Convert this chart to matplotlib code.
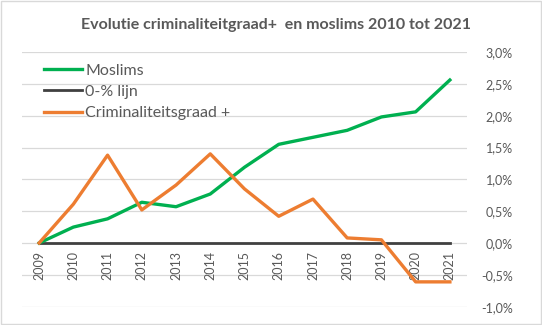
import matplotlib
matplotlib.use('Agg')
import matplotlib.pyplot as plt
from matplotlib.ticker import FuncFormatter
from matplotlib.patches import Rectangle

# data (percent)
years = [2009, 2010, 2011, 2012, 2013, 2014, 2015, 2016, 2017, 2018, 2019, 2020, 2021]
moslims = [0.0, 0.25, 0.38, 0.64, 0.57, 0.77, 1.19, 1.55, 1.66, 1.77, 1.98, 2.06, 2.56]
criminaliteit = [0.0, 0.61, 1.38, 0.52, 0.91, 1.40, 0.85, 0.42, 0.69, 0.08, 0.05, -0.61, -0.61]
nul_lijn = [0.0] * len(years)
y_ticks = [-1.0, -0.5, 0.0, 0.5, 1.0, 1.5, 2.0, 2.5, 3.0]

plt.rcParams['font.family'] = ['Lato', 'DejaVu Sans']
txt = '#595959'

fig = plt.figure(figsize=(5.42, 3.25), dpi=100)
ax = fig.add_axes([22 / 542, 1 - 306.7 / 325, (467 - 22) / 542, (306.7 - 52) / 325])

x = list(range(len(years)))
ax.plot(x, moslims, color='#00B050', lw=2.4, label='Moslims', zorder=3)
ax.plot(x, nul_lijn, color='#404040', lw=2.0, label='0-% lijn', zorder=2)
ax.plot(x, criminaliteit, color='#ED7D31', lw=2.4, label='Criminaliteitsgraad +', zorder=4)

ax.set_xlim(-0.5, len(years) - 0.5)
ax.set_ylim(-1.0, 3.0)
ax.set_yticks(y_ticks)
ax.yaxis.tick_right()
ax.yaxis.set_major_formatter(FuncFormatter(lambda v, p: ('%.1f%%' % v).replace('.', ',')))
ax.tick_params(axis='y', length=0, pad=33, labelsize=9, labelcolor=txt)
for lab in ax.get_yticklabels():
    lab.set_horizontalalignment('right')
ax.set_xticks([])
ax.grid(axis='y', color='#D9D9D9', lw=0.9)
ax.set_axisbelow(True)
for s in ax.spines.values():
    s.set_visible(False)

# category labels sit just below the zero line
for i, yr in enumerate(years):
    ax.text(i, -0.13, str(yr), rotation=90, ha='center', va='top', fontsize=9, color=txt)

leg = ax.legend(loc='upper left', bbox_to_anchor=(0.035, 0.98), frameon=False,
                fontsize=11.5, handlelength=2.4, handletextpad=0.2, labelspacing=0.45,
                borderaxespad=0)
for t in leg.get_texts():
    t.set_color(txt)

fig.text(276 / 542, 1 - 25 / 325, 'Evolutie criminaliteitgraad+  en moslims 2010 tot 2021',
         ha='center', va='center', fontsize=11.5, fontweight='bold', color=txt)

fig.patches.append(Rectangle((0.001, 0.002), 0.997, 0.996, transform=fig.transFigure,
                             fill=False, edgecolor='#D9D9D9', lw=1))

fig.savefig('out.png', dpi=100)
